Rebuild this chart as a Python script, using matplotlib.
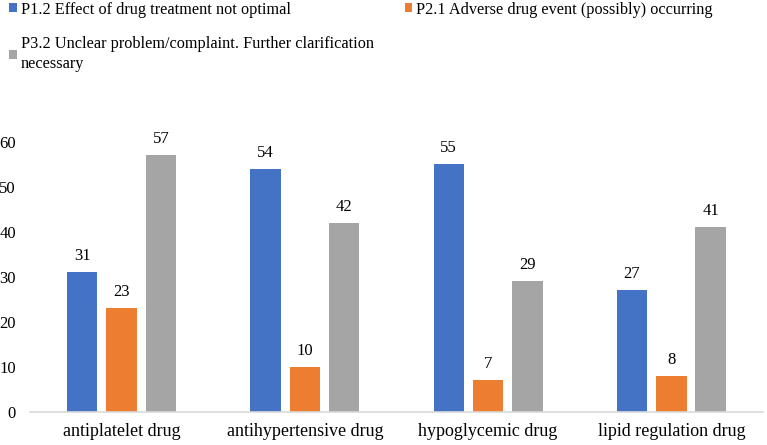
import matplotlib
matplotlib.use("Agg")
import matplotlib.pyplot as plt
import numpy as np

categories = ["antiplatelet drug", "antihypertensive drug", "hypoglycemic drug", "lipid regulation drug"]
series_names = ["P1.2 Effect of drug treatment not optimal",
                "P2.1 Adverse drug event (possibly) occurring",
                "P3.2 Unclear problem/complaint. Further clarification\nnecessary"]
p12 = [31, 54, 55, 27]
p21 = [23, 10, 7, 8]
p32 = [57, 42, 29, 41]
colors = ["#4472C4", "#ED7D31", "#A5A5A5"]
yticks = [0, 10, 20, 30, 40, 50, 60]

plt.rcParams['font.family'] = ['Liberation Serif', 'DejaVu Serif']

fig = plt.figure(figsize=(7.67, 4.45), dpi=100)
ax = fig.add_axes([0.039, 0.0742, 0.9558, 0.607])

x = np.arange(len(categories))
width = 0.166
step = 0.2145
handles = []
for i, (vals, c, name) in enumerate(zip([p12, p21, p32], colors, series_names)):
    bars = ax.bar(x + (i - 1) * step, vals, width, color=c, label=name)
    handles.append(bars)
    for b, v in zip(bars, vals):
        ax.annotate(str(v), (b.get_x() + b.get_width() / 2, v), xytext=(0, 6),
                    textcoords="offset points", ha="center", va="bottom",
                    fontsize=12, annotation_clip=False)

ax.set_xlim(-0.5, len(categories) - 0.5)
ax.set_ylim(0, 60)
ax.set_yticks(yticks)
ax.set_xticks(x)
ax.set_xticklabels(categories, fontsize=13)
ax.tick_params(axis='y', labelsize=12, length=0, pad=10)
ax.tick_params(axis='x', length=0, pad=8)
for s in ["top", "right", "left"]:
    ax.spines[s].set_visible(False)
ax.spines["bottom"].set_color("#D9D9D9")
ax.spines["bottom"].set_linewidth(1.2)

leg = fig.legend([handles[0], handles[2], handles[1]],
                 [series_names[0], series_names[2], series_names[1]],
                 ncol=2, loc="upper left", bbox_to_anchor=(0.01, 1.0),
                 frameon=False, fontsize=11.7, handlelength=0.45, handleheight=0.45,
                 handletextpad=0.25, columnspacing=1.9, labelspacing=1.15,
                 borderaxespad=0.0, borderpad=0.1)
leg.get_texts()[1].set_linespacing(1.3)
fig.savefig("out.png", dpi=100)
